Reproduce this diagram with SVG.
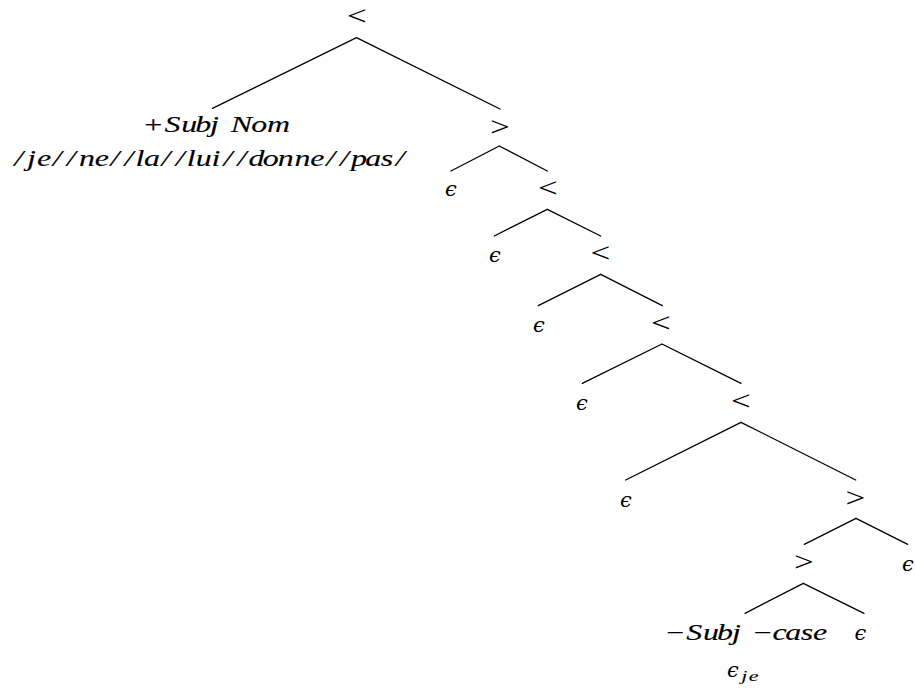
<svg xmlns="http://www.w3.org/2000/svg" width="915" height="688" viewBox="0 0 915 688">
<style>
.rel{font-family:"Liberation Serif","DejaVu Serif",serif;font-size:27px;text-anchor:middle;fill:#000}
.eps{font-family:"DejaVu Serif","Noto Sans",serif;font-style:italic;font-size:21px;text-anchor:middle;fill:#000}
.lbl{font-family:"Liberation Serif","Times New Roman",serif;font-style:italic;font-size:22.5px;fill:#000;stroke:#000;stroke-width:0.12}
.sub{font-family:"Liberation Serif","Times New Roman",serif;font-style:italic;font-size:15.5px;fill:#000;stroke:#000;stroke-width:0.1}
.up{font-style:normal}
.edge{stroke:#000;stroke-width:1.3;fill:none;stroke-linecap:round}
</style>
<rect width="915" height="688" fill="#fff"/>
<g id="connectors">
<path class="edge" d="M356.5 37.7 L212.5 108.3 M356.5 37.7 L500 109"/>
<path class="edge" d="M499.3 146 L451 171 M499.3 146 L547.3 171"/>
<path class="edge" d="M547.3 209.3 L494.3 236 M547.3 209.3 L600.7 236"/>
<path class="edge" d="M600.7 274.3 L538.3 305.7 M600.7 274.3 L662.3 305.7"/>
<path class="edge" d="M662 344 L582.3 383.3 M662 344 L741 383.3"/>
<path class="edge" d="M741 422.3 L625.7 480 M741 422.3 L855.7 480"/>
<path class="edge" d="M856 518.3 L804.3 544.3 M856 518.3 L907.7 544.3"/>
<path class="edge" d="M803.3 583.3 L745 613.3 M803.3 583.3 L864 613.3"/>
</g>
<g id="n0"><text class="rel" transform="translate(357,25) scale(1.3,1)">&lt;</text></g>
<g id="n1">
<text class="lbl" transform="translate(216,132) scale(1.42,1)"><tspan class="up" x="-50.5">+</tspan><tspan x="-36.2 -24.5 -14.7 -4.2 2.6 10.4 24.8 36.0">Subj Nom</tspan></text>
<text class="lbl" transform="translate(209,166) scale(1.42,1)" x="-137.1 -128.2 -121.1 -110.0 -100.2 -91.5 -80.5 -69.3 -59.5 -51.7 -45.7 -33.4 -23.5 -15.7 -9.3 1.8 10.2 20.0 27.9 37.8 48.5 60.2 71.3 82.5 92.3 100.0 110.1 121.0 131.6">/je//ne//la//lui//donne//pas/</text>
</g>
<g id="n2"><text class="rel" transform="translate(500,135.5) scale(1.3,1)">&gt;</text></g>
<g id="n3"><text class="eps" x="451" y="196">ϵ</text></g>
<g id="n4"><text class="rel" transform="translate(548,196.7) scale(1.3,1)">&lt;</text></g>
<g id="n5"><text class="eps" x="495" y="261.5">ϵ</text></g>
<g id="n6"><text class="rel" transform="translate(600.5,261.7) scale(1.3,1)">&lt;</text></g>
<g id="n7"><text class="eps" x="539" y="331.5">ϵ</text></g>
<g id="n8"><text class="rel" transform="translate(661,331.7) scale(1.3,1)">&lt;</text></g>
<g id="n9"><text class="eps" x="582" y="410">ϵ</text></g>
<g id="n10"><text class="rel" transform="translate(741,410) scale(1.3,1)">&lt;</text></g>
<g id="n11"><text class="eps" x="626" y="506.5">ϵ</text></g>
<g id="n12"><text class="rel" transform="translate(855.5,506.7) scale(1.3,1)">&gt;</text></g>
<g id="n13"><text class="rel" transform="translate(804,570.7) scale(1.3,1)">&gt;</text></g>
<g id="n14"><text class="eps" x="908" y="570.5">ϵ</text></g>
<g id="n15">
<text class="lbl" transform="translate(745,640) scale(1.42,1)"><tspan class="up" x="-55.5">−</tspan><tspan x="-41.3 -29.5 -19.7 -9.2 -2.5">Subj </tspan><tspan class="up" x="6.2">−</tspan><tspan x="19.3 28.3 39.2 47.9">case</tspan></text>
<text class="eps" x="733" y="677">ϵ</text>
<text class="sub" transform="translate(740,681) scale(1.42,1)" x="0.9 6.1">je</text>
</g>
<g id="n16"><text class="eps" x="860.5" y="640">ϵ</text></g>
</svg>
